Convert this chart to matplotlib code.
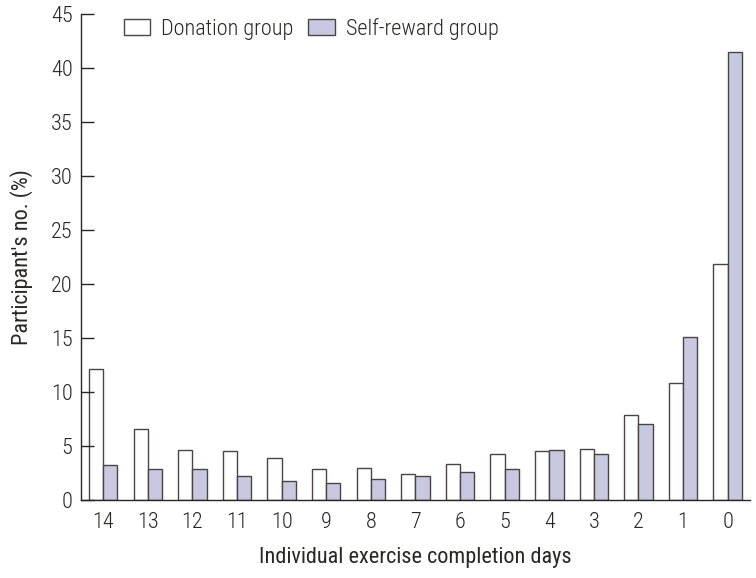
import numpy as np
import matplotlib.pyplot as plt
from matplotlib import font_manager

# data
days = ['14', '13', '12', '11', '10', '9', '8', '7', '6', '5', '4', '3', '2', '1', '0']
donation = [12.1, 6.6, 4.6, 4.5, 3.85, 2.9, 3.0, 2.45, 3.3, 4.3, 4.5, 4.7, 7.9, 10.8, 21.8]
self_reward = [3.2, 2.9, 2.9, 2.25, 1.8, 1.6, 1.9, 2.2, 2.55, 2.9, 4.6, 4.3, 7.0, 15.1, 41.5]

names = {f.name for f in font_manager.fontManager.ttflist}
fam = 'Roboto'
for cand in ['Roboto Condensed', 'Liberation Sans Narrow', 'Open Sans Condensed', 'DejaVu Sans Condensed']:
    if cand in names:
        fam = cand
        break
plt.rcParams['font.family'] = [fam, 'DejaVu Sans']
plt.rcParams['font.weight'] = 'light'

txt = '#2b2626'
edge = '#4a4444'

fig = plt.figure(figsize=(7.56, 5.78), dpi=100)
ax = fig.add_axes([0.107, 0.135, 0.885, 0.841])

x = np.arange(len(days))
w = 0.32
ax.bar(x - w / 2, donation, width=w, color='white', edgecolor=edge, linewidth=1.0, label='Donation group')
ax.bar(x + w / 2, self_reward, width=w, color='#c8c8e0', edgecolor=edge, linewidth=1.0, label='Self-reward group')

ax.set_xlim(-0.5, len(days) - 0.5)
ax.set_ylim(0, 45)
ax.set_yticks(range(0, 46, 5))
ax.set_xticks(x)
ax.set_xticklabels(days)

for s in ['top', 'right']:
    ax.spines[s].set_visible(False)
for s in ['left', 'bottom']:
    ax.spines[s].set_color(txt)
    ax.spines[s].set_linewidth(1.0)

ax.tick_params(axis='y', direction='in', length=9, width=1.0, color=txt, labelsize=16, labelcolor=txt, pad=6)
ax.tick_params(axis='x', length=0, labelsize=16, labelcolor=txt, pad=9)

ax.set_xlabel('Individual exercise completion days', fontsize=16, color=txt, labelpad=10)
ax.set_ylabel("Participant's no. (%)", fontsize=16, color=txt, labelpad=13)

ax.legend(loc='upper left', bbox_to_anchor=(0.034, 1.033), ncol=2, frameon=False,
          fontsize=16, labelcolor=txt, handlelength=1.2, handleheight=0.75,
          handletextpad=0.5, columnspacing=0.65)

fig.savefig('out.png', dpi=100)
